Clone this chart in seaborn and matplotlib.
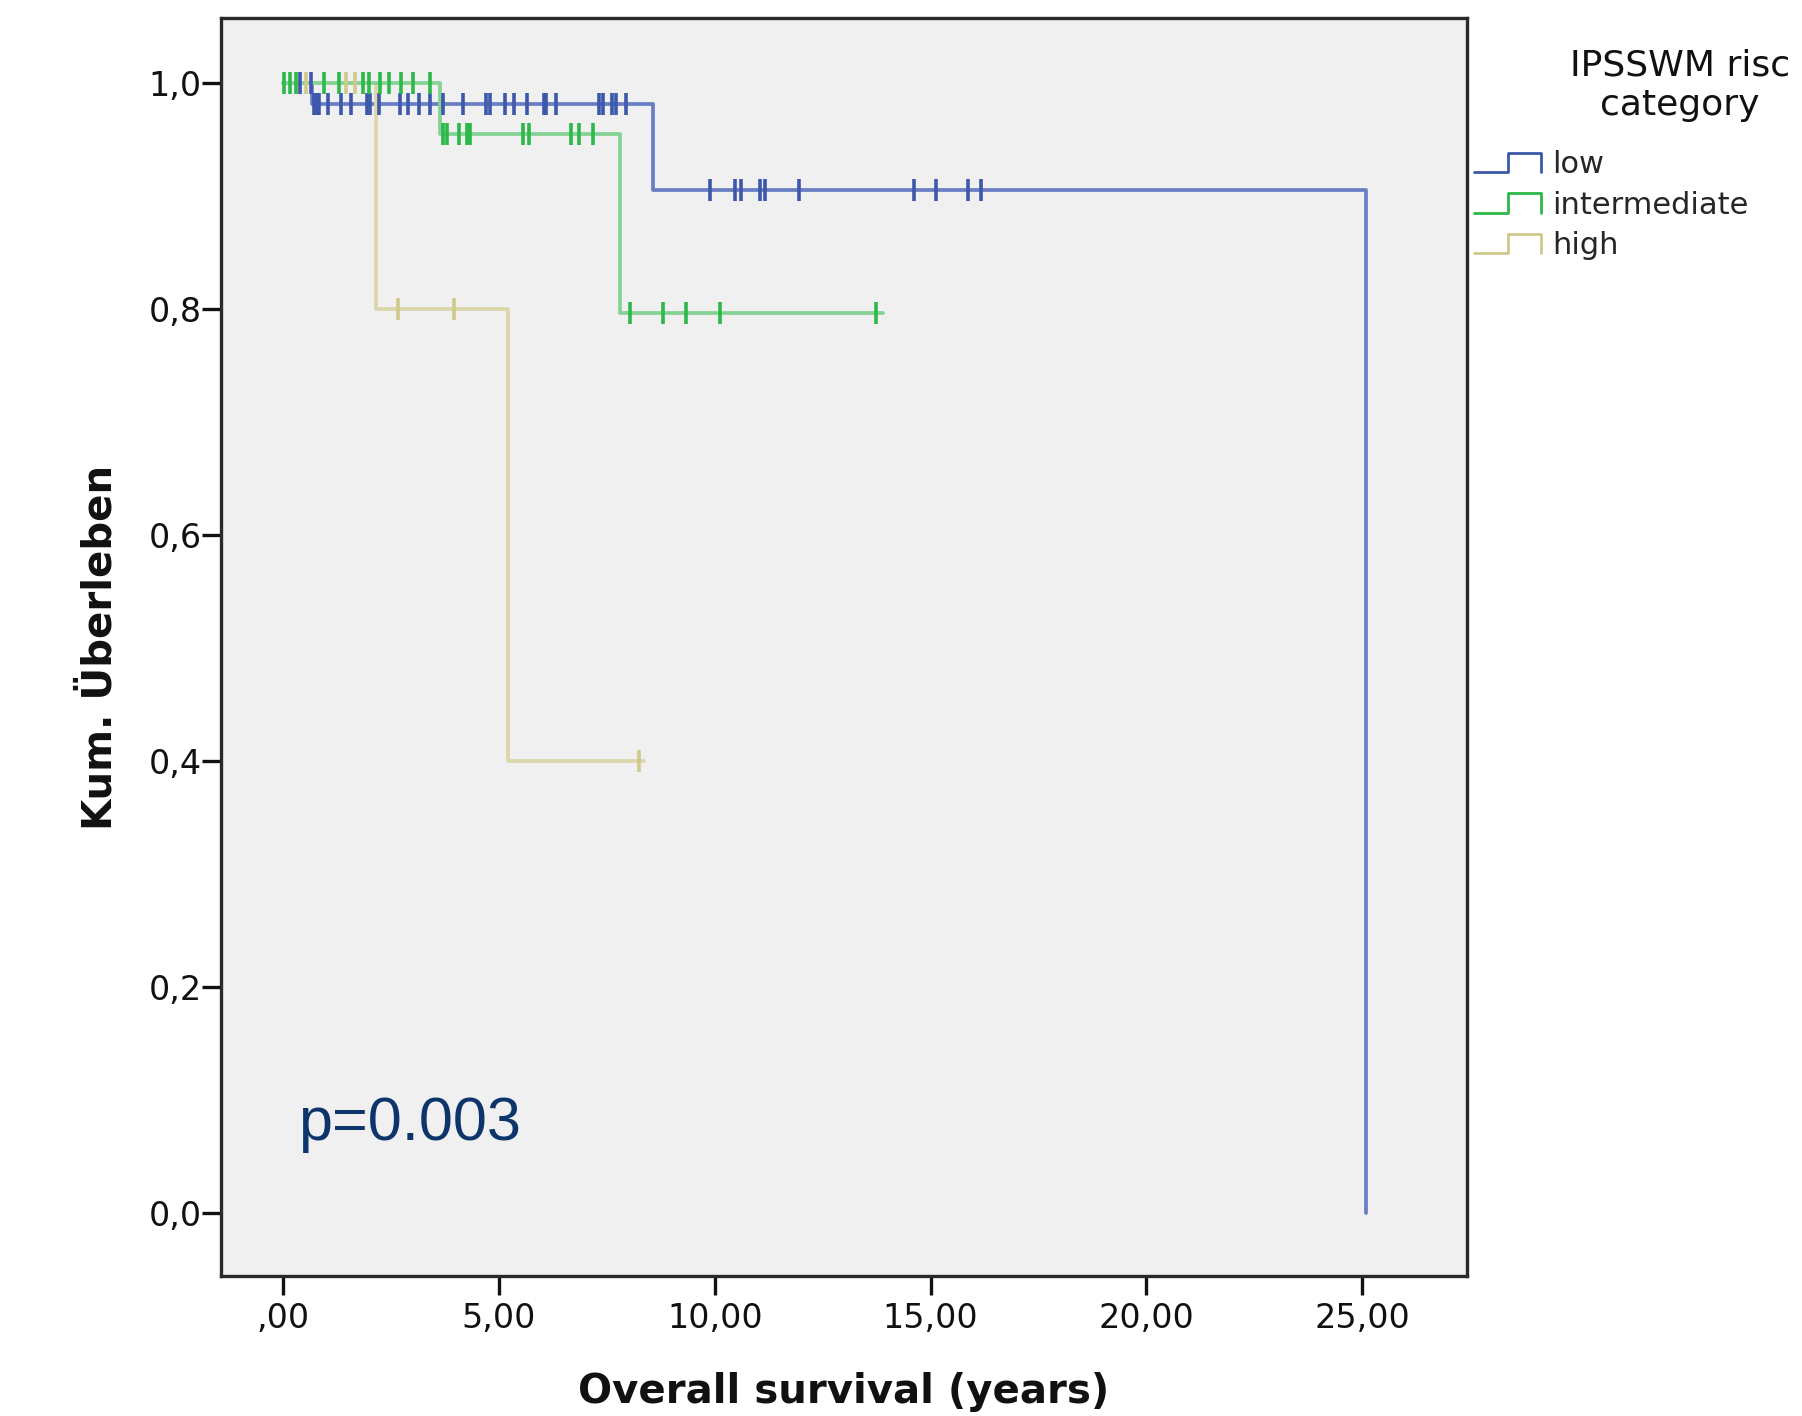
import numpy as np
import pandas as pd
import seaborn as sns
import matplotlib.pyplot as plt
from matplotlib.lines import Line2D
from matplotlib.legend_handler import HandlerBase

# Kaplan-Meier step points (years, cumulative survival)
low_times = [0.0, 0.67, 8.57, 25.08]
low_surv = [1.0, 0.982, 0.906, 0.0]
inter_times = [0.0, 3.63, 7.80, 13.9]
inter_surv = [1.0, 0.955, 0.797, 0.797]
high_times = [0.0, 2.15, 5.22, 8.35]
high_surv = [1.0, 0.80, 0.40, 0.40]

# censored cases (years)
low_censored = [0.40, 0.64, 0.72, 0.78, 0.84, 1.03, 1.33, 1.58, 1.94, 2.02, 2.23, 2.71,
                2.90, 3.15, 3.40, 3.71, 4.16, 4.71, 4.79, 5.15, 5.35, 5.64, 6.04, 6.10,
                6.32, 7.32, 7.41, 7.62, 7.72, 7.94, 9.88, 10.46, 10.60, 11.06, 11.17,
                11.95, 14.61, 15.12, 15.86, 16.16]
inter_censored = [0.03, 0.15, 0.30, 0.95, 1.30, 1.85, 1.98, 2.25, 2.46, 2.73, 3.02, 3.40,
                  3.71, 3.79, 4.08, 4.25, 4.33, 5.56, 5.70, 6.67, 6.85, 7.17, 8.03, 8.81,
                  9.34, 10.13, 13.74]
high_censored = [0.53, 1.46, 1.66, 2.67, 3.95, 8.25]

groups = ['low', 'intermediate', 'high']
xtick_values = [0, 5, 10, 15, 20, 25]
xtick_labels = [',00', '5,00', '10,00', '15,00', '20,00', '25,00']
ytick_values = [0.0, 0.2, 0.4, 0.6, 0.8, 1.0]
ytick_labels = ['0,0', '0,2', '0,4', '0,6', '0,8', '1,0']

line_colors = {'low': '#6a7ec4', 'intermediate': '#86d295', 'high': '#dbd7ab'}
mark_colors = {'low': '#3d57ab', 'intermediate': '#2db84a', 'high': '#cfc98a'}

step_data = {'low': (low_times, low_surv),
             'intermediate': (inter_times, inter_surv),
             'high': (high_times, high_surv)}
cens_data = {'low': low_censored, 'intermediate': inter_censored, 'high': high_censored}

steps = []
cens = []
for g in groups:
    t, s = step_data[g]
    steps.append(pd.DataFrame({'time': t, 'surv': s, 'group': g}))
    c = np.array(cens_data[g])
    idx = np.searchsorted(t, c, side='right') - 1
    cens.append(pd.DataFrame({'time': c, 'surv': np.array(s)[idx], 'group': g}))
steps = pd.concat(steps, ignore_index=True)
cens = pd.concat(cens, ignore_index=True)

sns.set_theme(style='white')
plt.rcParams['font.family'] = ['DejaVu Sans']

fig = plt.figure(figsize=(18.02, 14.16), dpi=100)
ax = fig.add_axes([221 / 1802, 1 - 1276 / 1416, 1246 / 1802, 1258 / 1416])
ax.set_facecolor('#f0f0f0')

for g in ['low', 'high', 'intermediate']:
    sns.lineplot(data=steps[steps.group == g], x='time', y='surv', drawstyle='steps-post',
                 color=line_colors[g], lw=2.7, estimator=None, sort=False, ax=ax, legend=False)
    sns.scatterplot(data=cens[cens.group == g], x='time', y='surv', marker='|', s=240,
                    linewidth=2.6, color=mark_colors[g], ax=ax, legend=False, zorder=3)

ax.set_xlim(-1.44, 27.43)
ax.set_ylim(-0.056, 1.058)
ax.set_xticks(xtick_values)
ax.set_xticklabels(xtick_labels)
ax.set_yticks(ytick_values)
ax.set_yticklabels(ytick_labels)
ax.tick_params(axis='both', which='major', bottom=True, left=True, top=False, right=False,
               direction='out', length=14, width=2.4, color='#111111',
               labelsize=24, labelcolor='#111111')
ax.tick_params(axis='x', pad=5)
ax.tick_params(axis='y', pad=0)
for sp in ax.spines.values():
    sp.set_linewidth(2.4)
    sp.set_color('#2a2a2a')

ax.set_xlabel('Overall survival (years)', fontsize=29, fontweight='bold', labelpad=26, color='#111111')
ax.set_ylabel('Kum. Überleben', fontsize=29, fontweight='bold', labelpad=20, color='#111111')

ax.text(0.35, 0.064, 'p=0.003', fontsize=44, color='#0d356c', family=['Liberation Sans', 'DejaVu Sans'],
        ha='left', va='baseline')


class StepHandler(HandlerBase):
    def create_artists(self, legend, orig_handle, xdescent, ydescent, width, height, fontsize, trans):
        x0, y0 = -xdescent, -ydescent
        xs = [x0, x0 + 0.5 * width, x0 + 0.5 * width, x0 + width, x0 + width]
        ys = [y0, y0, y0 + height, y0 + height, y0]
        ln = Line2D(xs, ys, color=orig_handle.get_color(), lw=orig_handle.get_linewidth(),
                    transform=trans)
        return [ln]


handles = [Line2D([], [], color=mark_colors[g], lw=2.0) for g in groups]
fig.legend(handles, groups, handler_map={Line2D: StepHandler()}, loc='upper left',
           bbox_to_anchor=(1474 / 1802, 1 - 150 / 1416), frameon=False, fontsize=22,
           handlelength=2.2, handleheight=0.6, handletextpad=0.35, labelspacing=0.38,
           borderpad=0, borderaxespad=0)
fig.text(1680 / 1802, 1 - 48 / 1416, 'IPSSWM risc\ncategory', ha='center', va='top',
         fontsize=26, linespacing=1.22, color='#111111')

fig.savefig('out.png', dpi=100, facecolor='white')
